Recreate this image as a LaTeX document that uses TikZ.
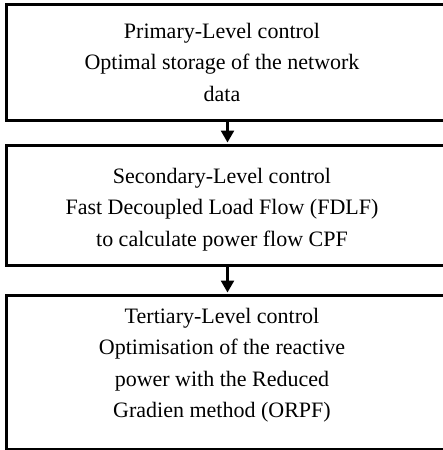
\documentclass[tikz,border=0pt]{standalone}
\usepackage{fontspec}
\setmainfont{Liberation Serif}
\usetikzlibrary{arrows.meta}

\tikzset{
  levelbox/.style={draw=black, line width=3pt, rectangle, inner sep=0pt},
  leveltext/.style={align=center, anchor=north, inner sep=0pt,
    font=\fontsize{22}{31.5}\selectfont},
  flowarrow/.style={line width=2.5pt,
    -{Triangle[width=13pt,length=12pt]}, shorten >=1.5pt}
}

\begin{document}
\begin{tikzpicture}[x=1pt, y=-1pt]
  \useasboundingbox (0,0) rectangle (443,450);

  % the three control levels
  \node[levelbox, minimum width=440.5pt, minimum height=116pt] (b1) at (226.75,62.5) {};
  \node[levelbox, minimum width=440.5pt, minimum height=120pt] (b2) at (226.75,205.5) {};
  \node[levelbox, minimum width=440.5pt, minimum height=154pt] (b3) at (226.75,372.5) {};

  % texts of the levels
  \node[leveltext] (t1) at (222,23)
    {Primary-Level control\\Optimal storage of the network\\data};
  \node[leveltext] (t2) at (222,168)
    {Secondary-Level control\\Fast Decoupled Load Flow (FDLF)\\to calculate power flow CPF};
  \node[leveltext] (t3) at (222,308)
    {Tertiary-Level control\\Optimisation of the reactive\\power with the Reduced\\Gradien method (ORPF)};

  % arrows between the levels
  \coordinate (ax) at (227.5,0);
  \draw[flowarrow] (b1.south -| ax) -- (b2.north -| ax);
  \draw[flowarrow] (b2.south -| ax) -- (b3.north -| ax);
\end{tikzpicture}
\end{document}
